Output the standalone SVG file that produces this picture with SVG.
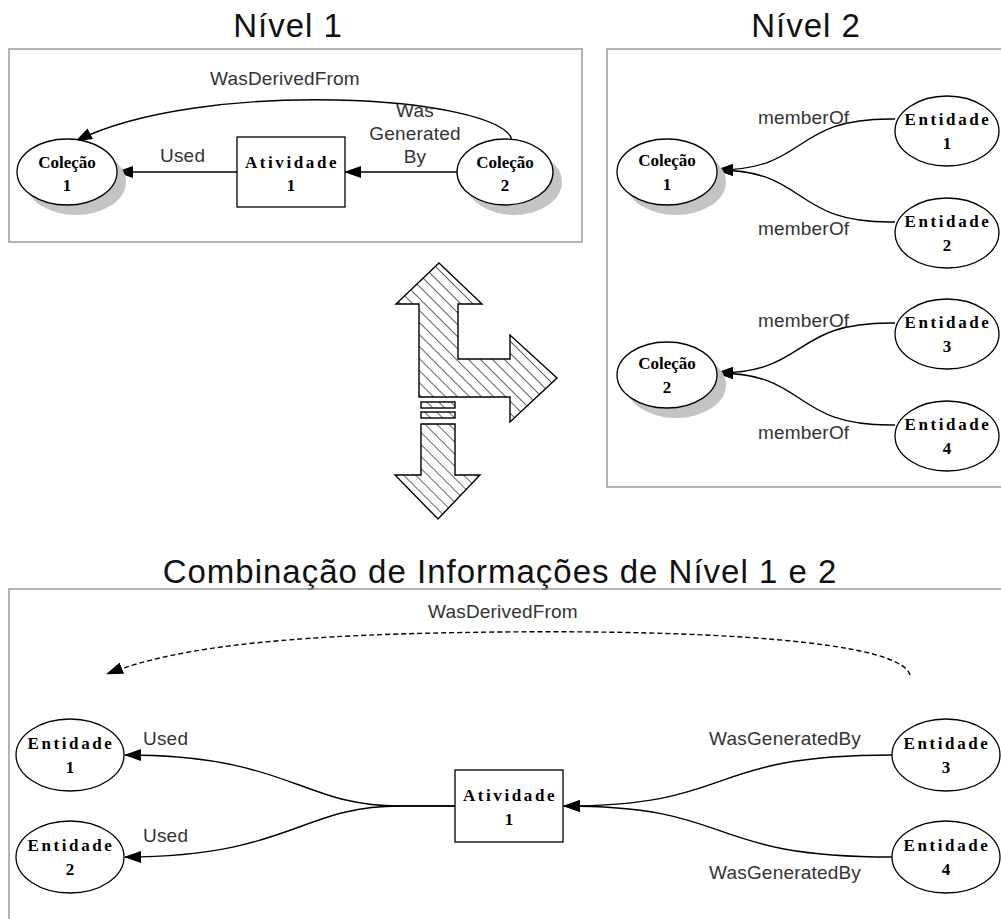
<svg xmlns="http://www.w3.org/2000/svg" width="1001" height="919" viewBox="0 0 1001 919">
<style>
.title{font-family:"Liberation Sans",Arial,sans-serif;font-size:33px;fill:#111;text-anchor:middle;letter-spacing:1px}
.frame{fill:none;stroke:#9a9a9a;stroke-width:1.5}
.node{fill:#fff;stroke:#000;stroke-width:1.3}
.shadow{fill:#c4c4c4}
.nt{font-family:"Liberation Serif","Times New Roman",serif;font-weight:bold;font-size:17px;fill:#000;text-anchor:middle}
.sp{letter-spacing:2.6px}
.edge{fill:none;stroke:#000;stroke-width:1.4}
.dash{stroke-dasharray:5 3}
.el{font-family:"Liberation Sans",Arial,sans-serif;font-size:19px;fill:#333;letter-spacing:0.2px}
.hatch{fill:url(#hatch);stroke:#000;stroke-width:1.4}
</style>
<defs>
<marker id="arr" viewBox="0 0 17 12" refX="16" refY="6" markerWidth="17" markerHeight="12" markerUnits="userSpaceOnUse" orient="auto">
<path d="M0,0 L17,6 L0,12 Z" fill="#000"/>
</marker>
<pattern id="hatch" patternUnits="userSpaceOnUse" width="8.5" height="8.5" patternTransform="rotate(-45)">
<rect width="8.5" height="8.5" fill="#fff"/>
<line x1="0" y1="0" x2="0" y2="8.5" stroke="#000" stroke-width="1.2"/>
</pattern>
</defs>
<rect width="1001" height="919" fill="#fff"/>

<!-- titles -->
<text class="title" x="288" y="37">Nível 1</text>
<text class="title" x="806" y="37">Nível 2</text>
<text class="title" x="500" y="583">Combinação de Informações de Nível 1 e 2</text>

<!-- frames -->
<rect class="frame" x="9" y="49" width="573" height="193"/>
<rect class="frame" x="607" y="49" width="400" height="438"/>
<rect class="frame" x="9" y="589" width="1000" height="340"/>

<!-- hatched arrow -->
<g id="big-arrow">
<polygon class="hatch" points="439,263 482,304 458,304 458,359 510,359 510,335 557,378 510,422 510,397 419,397 419,304 396,304"/>
<rect class="hatch" x="421" y="402" width="34" height="6"/>
<rect class="hatch" x="421" y="412" width="34" height="6"/>
<polygon class="hatch" points="421,424 455,424 455,475 480,475 438,519 395,475 421,475"/>
</g>

<!-- connectors -->
<g id="connectors">
<path class="edge" d="M512,140 C500,95 200,78 76,141" marker-end="url(#arr)"/>
<path class="edge" d="M237,172 L117,172" marker-end="url(#arr)"/>
<path class="edge" d="M457,172 L345,172" marker-end="url(#arr)"/>
<path class="edge" d="M895,119 C790,117 810,170 717,170" marker-end="url(#arr)"/>
<path class="edge" d="M895,222 C790,224 810,170 717,170" marker-end="url(#arr)"/>
<path class="edge" d="M895,323 C790,321 810,373 717,373" marker-end="url(#arr)"/>
<path class="edge" d="M895,425 C790,427 810,373 717,373" marker-end="url(#arr)"/>
<path class="edge dash" d="M910,675 C900,640 700,630 500,632 C300,634 180,645 107,674" marker-end="url(#arr)"/>
<path class="edge" d="M455,806 L400,806 C300,806 290,755 125,755" marker-end="url(#arr)"/>
<path class="edge" d="M455,806 L400,806 C300,806 290,857 125,857" marker-end="url(#arr)"/>
<path class="edge" d="M892,755 C700,755 740,806 564,806" marker-end="url(#arr)"/>
<path class="edge" d="M892,857 C700,857 740,806 564,806" marker-end="url(#arr)"/>
</g>

<!-- edge labels -->
<g id="edge-labels">
<text class="el" x="210" y="85">WasDerivedFrom</text>
<text class="el" x="160" y="162">Used</text>
<text class="el" x="415" y="117" text-anchor="middle">Was</text>
<text class="el" x="415" y="140" text-anchor="middle">Generated</text>
<text class="el" x="415" y="163" text-anchor="middle">By</text>
<text class="el" x="758" y="124">memberOf</text>
<text class="el" x="758" y="235">memberOf</text>
<text class="el" x="758" y="327">memberOf</text>
<text class="el" x="758" y="439">memberOf</text>
<text class="el" x="428" y="618">WasDerivedFrom</text>
<text class="el" x="143" y="745">Used</text>
<text class="el" x="143" y="842">Used</text>
<text class="el" x="709" y="745">WasGeneratedBy</text>
<text class="el" x="709" y="879">WasGeneratedBy</text>
</g>

<!-- Nível 1 nodes -->
<g id="n1-colecao1">
<ellipse class="shadow" cx="76" cy="182" rx="50" ry="33"/>
<ellipse class="node" cx="67" cy="172" rx="50" ry="33"/>
<text class="nt" x="67" y="168">Coleção</text>
<text class="nt" x="67" y="191">1</text>
</g>
<g id="n1-atividade1">
<rect class="node" x="237" y="137" width="108" height="70"/>
<text class="nt sp" x="292" y="168">Atividade</text>
<text class="nt" x="291" y="191">1</text>
</g>
<g id="n1-colecao2">
<ellipse class="shadow" cx="514" cy="182" rx="48" ry="33"/>
<ellipse class="node" cx="505" cy="172" rx="48" ry="33"/>
<text class="nt" x="505" y="168">Coleção</text>
<text class="nt" x="505" y="191">2</text>
</g>

<!-- Nível 2 nodes -->
<g id="n2-colecao1">
<ellipse class="shadow" cx="676" cy="182" rx="50" ry="33"/>
<ellipse class="node" cx="667" cy="172" rx="50" ry="33"/>
<text class="nt" x="667" y="166">Coleção</text>
<text class="nt" x="667" y="190">1</text>
</g>
<g id="n2-entidade1">
<ellipse class="node" cx="947" cy="131" rx="52" ry="35"/>
<text class="nt sp" x="948" y="125">Entidade</text>
<text class="nt" x="947" y="149">1</text>
</g>
<g id="n2-entidade2">
<ellipse class="node" cx="947" cy="233" rx="52" ry="35"/>
<text class="nt sp" x="948" y="227">Entidade</text>
<text class="nt" x="947" y="251">2</text>
</g>
<g id="n2-colecao2">
<ellipse class="shadow" cx="676" cy="385" rx="50" ry="33"/>
<ellipse class="node" cx="667" cy="375" rx="50" ry="33"/>
<text class="nt" x="667" y="369">Coleção</text>
<text class="nt" x="667" y="393">2</text>
</g>
<g id="n2-entidade3">
<ellipse class="node" cx="947" cy="334" rx="52" ry="35"/>
<text class="nt sp" x="948" y="328">Entidade</text>
<text class="nt" x="947" y="352">3</text>
</g>
<g id="n2-entidade4">
<ellipse class="node" cx="947" cy="436" rx="52" ry="35"/>
<text class="nt sp" x="948" y="430">Entidade</text>
<text class="nt" x="947" y="454">4</text>
</g>

<!-- Combined nodes -->
<g id="c-entidade1">
<ellipse class="node" cx="70" cy="755" rx="54" ry="36"/>
<text class="nt sp" x="71" y="749">Entidade</text>
<text class="nt" x="70" y="773">1</text>
</g>
<g id="c-entidade2">
<ellipse class="node" cx="70" cy="857" rx="54" ry="36"/>
<text class="nt sp" x="71" y="851">Entidade</text>
<text class="nt" x="70" y="875">2</text>
</g>
<g id="c-atividade1">
<rect class="node" x="455" y="770" width="108" height="72"/>
<text class="nt sp" x="510" y="801">Atividade</text>
<text class="nt" x="509" y="825">1</text>
</g>
<g id="c-entidade3">
<ellipse class="node" cx="946" cy="755" rx="54" ry="36"/>
<text class="nt sp" x="947" y="749">Entidade</text>
<text class="nt" x="946" y="773">3</text>
</g>
<g id="c-entidade4">
<ellipse class="node" cx="946" cy="857" rx="54" ry="36"/>
<text class="nt sp" x="947" y="851">Entidade</text>
<text class="nt" x="946" y="875">4</text>
</g>
</svg>
